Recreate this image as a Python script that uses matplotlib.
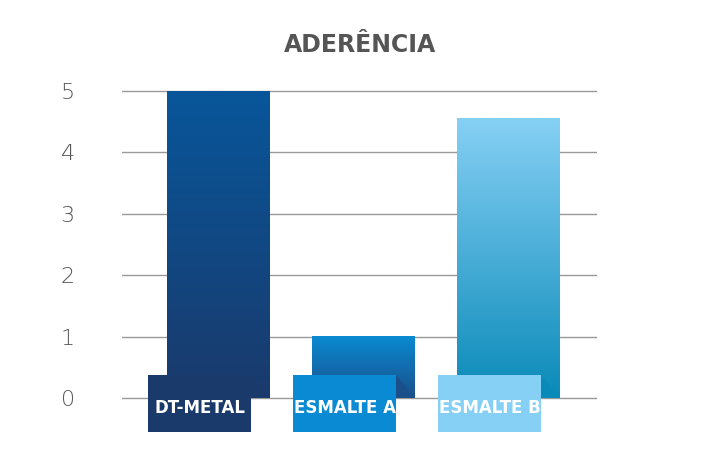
import numpy as np
import matplotlib.pyplot as plt
from matplotlib.colors import LinearSegmentedColormap
from matplotlib.patches import Rectangle, Polygon

categories = ['DT-METAL', 'ESMALTE A', 'ESMALTE B']
values = [5.0, 1.0, 4.55]
top_colors = ['#08569a', '#0a8ad2', '#86d0f5']
bottom_colors = ['#1a3a6c', '#1a4f8a', '#0a8ab8']
box_colors = ['#1a3a6c', '#0a8ad2', '#86d0f5']

W, H = 720, 470
fig = plt.figure(figsize=(7.2, 4.7), dpi=100)
ymin, ymax = -0.55, 5.3
ppu = 61.4
bot_px = 398 - ymin * ppu
top_px = 398 - ymax * ppu
ax = fig.add_axes([122 / W, 1 - bot_px / H, 475 / W, (bot_px - top_px) / H])
step = 145.0
ax.set_xlim(-96.5 / step, (475 - 96.5) / step)
ax.set_ylim(ymin, ymax)

for t in range(6):
    ax.axhline(t, color='#999999', lw=1, zorder=0)

bw = 103 / step
off = 19 / step
box_top = 0.375
for i, (c, v) in enumerate(zip(categories, values)):
    cmap = LinearSegmentedColormap.from_list('g', [bottom_colors[i], top_colors[i]])
    grad = np.linspace(0, 1, 256).reshape(-1, 1)
    ax.imshow(grad, cmap=cmap, origin='lower', aspect='auto',
              extent=(i - bw / 2, i + bw / 2, 0, v), zorder=2)
    bl = i - bw / 2 - off
    ax.add_patch(Rectangle((bl, ymin), bw, box_top - ymin, color=box_colors[i], zorder=3, lw=0))
    ax.add_patch(Polygon([(bl + bw, box_top), (i + bw / 2, 0), (bl + bw, 0)],
                         closed=True, color=bottom_colors[i], zorder=3, lw=0))
    ax.text(bl + bw / 2, (box_top + ymin) / 2 - 0.08, c, ha='center', va='center',
            color='white', fontsize=12, fontweight='bold', zorder=4)

for s in ax.spines.values():
    s.set_visible(False)
ax.set_xticks([])
ax.set_yticks(range(6))
ax.tick_params(axis='y', length=0, pad=34, labelsize=16, labelcolor='#555555')
for lb in ax.get_yticklabels():
    lb.set_fontweight('light')

fig.text(360 / W, 1 - 45 / H, 'ADERÊNCIA', ha='center', va='center',
         fontsize=17, fontweight='bold', color='#555555')

fig.savefig('out.png', dpi=100)
